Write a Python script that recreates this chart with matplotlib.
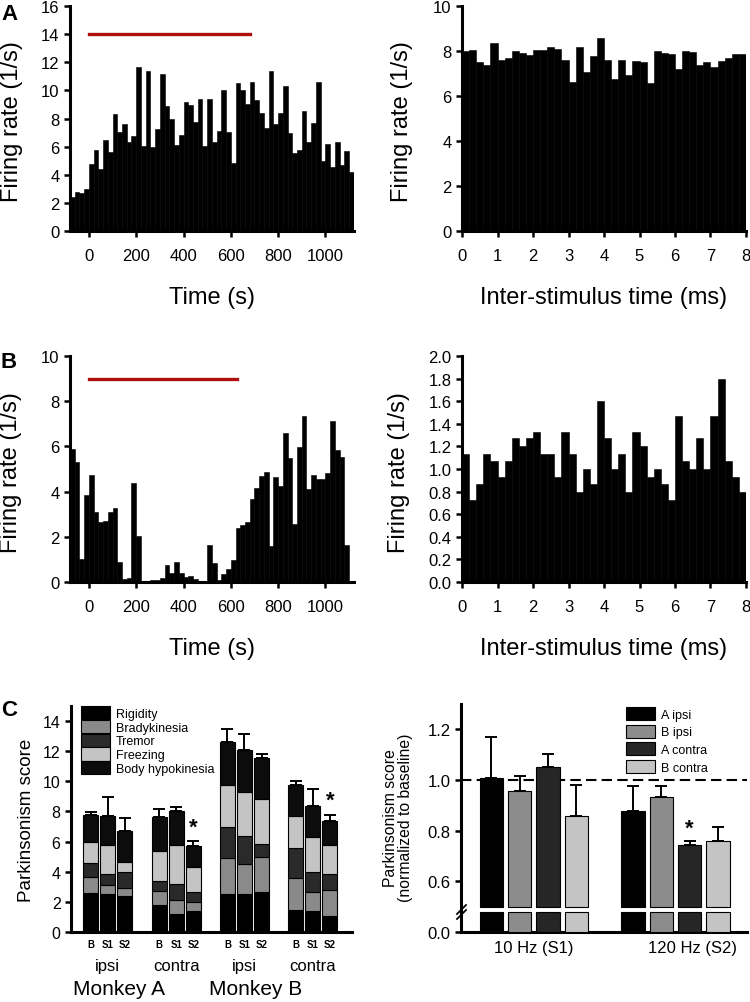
import numpy as np
import matplotlib
matplotlib.use("Agg")
import matplotlib.pyplot as plt
from matplotlib.lines import Line2D

plt.rcParams["font.family"] = ["Liberation Sans", "DejaVu Sans"]

# ---------------- data ----------------
# peri-stimulus firing rate, 20 s bins starting at -80 s
psth_start, psth_bin = -80, 20
psth_a = [2.44, 2.75, 2.68, 2.99, 4.79, 5.73, 4.38, 6.49, 5.59, 8.34,
          7.01, 7.6, 6.35, 6.75, 11.63, 6.07, 11.4, 6.0, 7.25, 11.16,
          8.86, 7.96, 6.14, 6.85, 9.19, 8.96, 7.73, 9.36, 6.07, 9.38,
          6.3, 7.13, 10.02, 7.01, 4.83, 10.52, 10.05, 9.03, 10.57, 9.31,
          8.36, 7.32, 11.35, 7.6, 8.36, 10.28, 6.97, 5.55, 5.78, 8.5,
          6.3, 7.68, 10.62, 5.0, 6.18, 4.57, 6.3, 4.69, 5.71, 4.17]
psth_b = [5.88, 5.29, 1.0, 3.85, 4.73, 3.08, 2.67, 2.7, 3.08, 3.26,
          0.9, 0.13, 0.18, 4.4, 2.05, 0.03, 0.04, 0.09, 0.07, 0.16,
          0.75, 0.38, 0.9, 0.38, 0.24, 0.27, 0.12, 0.04, 0.04, 1.65,
          0.84, 0.09, 0.35, 0.59, 0.97, 2.4, 2.51, 2.65, 3.69, 4.14,
          4.69, 4.85, 1.61, 4.65, 4.25, 6.58, 5.49, 2.55, 5.99, 7.35,
          4.1, 4.73, 4.54, 4.57, 4.81, 7.14, 5.84, 5.55, 1.65, 0.0]
stim_a = (0, 680, 14)
stim_b = (0, 625, 9)

# firing rate vs inter-stimulus time, 0.2 ms bins
isi_bin = 0.2
isi_a = [7.98, 8.05, 7.52, 7.37, 8.36, 7.62, 7.7, 7.98, 7.89, 7.82,
         8.05, 8.05, 8.17, 8.11, 7.61, 6.64, 8.17, 7.08, 7.8, 8.6,
         7.61, 6.76, 7.61, 6.93, 7.55, 7.51, 6.56, 7.99, 7.89, 7.88,
         7.18, 7.99, 7.94, 7.37, 7.49, 7.3, 7.55, 7.7, 7.88, 7.88]
isi_b = [1.13, 0.73, 0.87, 1.13, 1.07, 0.93, 1.07, 1.27, 1.2, 1.27,
         1.33, 1.13, 1.13, 0.93, 1.33, 1.13, 0.8, 1.0, 0.87, 1.6,
         1.27, 1.0, 1.13, 0.8, 1.33, 1.2, 0.93, 1.0, 0.87, 0.73,
         1.47, 1.07, 1.0, 1.27, 1.0, 1.47, 1.8, 1.07, 0.93, 0.8]

# parkinsonism scores (stacked), 4 groups x (B, S1, S2)
conditions = ["B", "S1", "S2"] * 4
sides = ["ipsi", "contra", "ipsi", "contra"]
monkeys = ["Monkey A", "Monkey B"]
symptoms = ["Rigidity", "Bradykinesia", "Tremor", "Freezing", "Body hypokinesia"]
rigidity = [2.61, 2.5, 2.39, 1.77, 1.17, 1.37, 2.5, 2.5, 2.68, 1.44, 1.37, 1.04]
bradykinesia = [1.06, 0.6, 0.55, 0.97, 0.98, 0.62, 2.43, 1.99, 2.28, 2.12, 1.28, 1.75]
tremor = [0.93, 0.77, 1.04, 0.64, 1.06, 0.69, 2.06, 1.88, 0.86, 1.99, 1.35, 1.08]
freezing = [1.37, 1.93, 0.64, 2.0, 2.56, 1.61, 2.79, 2.92, 2.99, 2.15, 2.31, 1.93]
body_hypo = [1.8, 1.9, 2.06, 2.27, 2.26, 1.42, 2.83, 2.77, 2.72, 2.08, 2.05, 1.57]
score_err = [0.19, 1.28, 0.89, 0.54, 0.27, 0.31, 0.84, 1.1, 0.31, 0.24, 1.13, 0.42]
score_sig = [5, 11]  # bars marked with *

# normalized scores
norm_groups = ["10 Hz (S1)", "120 Hz (S2)"]
norm_series = ["A ipsi", "B ipsi", "A contra", "B contra"]
norm_s1 = [1.008, 0.958, 1.053, 0.859]
norm_s1_err = [0.16, 0.059, 0.05, 0.121]
norm_s2 = [0.878, 0.933, 0.744, 0.761]
norm_s2_err = [0.10, 0.042, 0.015, 0.055]
norm_sig = [(1, 2)]  # (group, series)

# ---------------- layout ----------------
W, H = 750, 1003
fig = plt.figure(figsize=(W / 100, H / 100), dpi=100)


def add_ax(x0, x1, ytop, ybot):
    return fig.add_axes([x0 / W, (H - ybot) / H, (x1 - x0) / W, (ybot - ytop) / H])


def style(ax, labelsize=12, lw=2.2):
    for s in ["top", "right"]:
        ax.spines[s].set_visible(False)
    for s in ["left", "bottom"]:
        ax.spines[s].set_linewidth(lw)
    ax.tick_params(width=1.8, length=4, labelsize=labelsize, direction="out")


def hist(ax, start, width, vals):
    edges = start + width * np.arange(len(vals))
    ax.bar(edges, vals, width=width, align="edge", color="black",
           edgecolor="black", linewidth=0.4)


def labels(ax, xlab, ylab_x):
    ax.set_ylabel("Firing rate (1/s)", fontsize=17, va="center")
    ax.set_xlabel(xlab, fontsize=17, va="top")
    ax.yaxis.set_label_coords(ylab_x, 0.49)
    ax.xaxis.set_label_coords(0.5, -0.244)
    ax.tick_params(axis="x", pad=8)


# A left
ax = add_ax(70, 354, 7, 232)
hist(ax, psth_start, psth_bin, psth_a)
ax.plot(stim_a[:2], [stim_a[2]] * 2, color="#b01010", lw=2.4)
ax.set_xlim(-80, 1121)
ax.set_ylim(0, 16)
ax.set_yticks(range(0, 17, 2))
ax.set_xticks(range(0, 1001, 200))
style(ax)
labels(ax, "Time (s)", -0.204)

# A right
ax = add_ax(462, 746, 7, 232)
hist(ax, 0, isi_bin, isi_a)
ax.set_xlim(0, 8)
ax.set_ylim(0, 10)
ax.set_yticks(range(0, 11, 2))
ax.set_xticks(range(0, 9))
style(ax)
labels(ax, "Inter-stimulus time (ms)", -0.213)

# B left
ax = add_ax(70, 354, 357, 583)
hist(ax, psth_start, psth_bin, psth_b)
ax.plot(stim_b[:2], [stim_b[2]] * 2, color="#b01010", lw=2.4)
ax.set_xlim(-80, 1121)
ax.set_ylim(0, 10)
ax.set_yticks(range(0, 11, 2))
ax.set_xticks(range(0, 1001, 200))
style(ax)
labels(ax, "Time (s)", -0.208)

# B right
ax = add_ax(462, 746, 357, 583)
hist(ax, 0, isi_bin, isi_b)
ax.set_xlim(0, 8)
ax.set_ylim(0, 2.0)
ticks = np.arange(0, 2.01, 0.2)
ax.set_yticks(ticks)
ax.set_yticklabels([f"{v:.1f}" for v in ticks])
ax.set_xticks(range(0, 9))
style(ax)
labels(ax, "Inter-stimulus time (ms)", -0.223)

# C left: stacked scores
ax = add_ax(71, 352, 707, 933)
pos = np.array([c + 4 * g for g in range(4) for c in range(3)], dtype=float)
stack = [rigidity, bradykinesia, tremor, freezing, body_hypo]
colors = ["#000000", "#8a8a8a", "#2a2a2a", "#c4c4c4", "#0c0c0c"]
bottom = np.zeros(12)
handles = []
for vals, col, name in zip(stack, colors, symptoms):
    b = ax.bar(pos, vals, bottom=bottom, width=0.88, color=col,
               edgecolor="black", linewidth=0.8, label=name, zorder=3)
    handles.append(b)
    bottom = bottom + np.array(vals)
ax.errorbar(pos, bottom, yerr=[np.zeros(12), score_err], fmt="none",
            ecolor="black", elinewidth=1.4, capsize=4, capthick=1.4, zorder=2)
for i in score_sig:
    ax.text(pos[i], bottom[i] + score_err[i] + 0.25, "*", ha="center",
            va="bottom", fontsize=16, fontweight="bold")
ax.set_xlim(-1.16, 15.3)
ax.set_ylim(0, 15)
ax.set_yticks(range(0, 15, 2))
style(ax, labelsize=11.5)
ax.set_xticks(pos)
ax.set_xticklabels(conditions, fontweight="bold")
ax.tick_params(axis="x", length=0, pad=5, labelsize=7)
ax.set_ylabel("Parkinsonism score", fontsize=13.5, va="center")
ax.yaxis.set_label_coords(-0.16, 0.5)
trans = ax.get_xaxis_transform()
for g, s in enumerate(sides):
    ax.text(pos[3 * g + 1], -0.150, s, transform=trans, ha="center",
            va="center", fontsize=12)
for m, name in enumerate(monkeys):
    ax.text(pos[6 * m + 1] + 0.65, -0.252, name, transform=trans,
            ha="center", va="center", fontsize=15)
ax.legend(handles=handles, loc="upper left", bbox_to_anchor=(0.035, 1.0),
          frameon=False, fontsize=9, handlelength=2.3, handleheight=1.25,
          labelspacing=0.0, handletextpad=0.5, borderaxespad=0, borderpad=0)

# C right: normalized, broken axis
ax_up = add_ax(461, 747, 705, 909)
ax_lo = add_ax(461, 747, 911, 933)
npos = [np.arange(4) + 5 * g for g in range(2)]
ncolors = ["#000000", "#8c8c8c", "#262626", "#c4c4c4"]
means = [norm_s1, norm_s2]
errs = [norm_s1_err, norm_s2_err]
base = 0.5
stub = 0.09
nhandles = []
for k in range(4):
    xs = [npos[g][k] for g in range(2)]
    ys = [means[g][k] for g in range(2)]
    es = [errs[g][k] for g in range(2)]
    b = ax_up.bar(xs, np.array(ys) - base, bottom=base, width=0.82,
                  color=ncolors[k], edgecolor="black", linewidth=0.8,
                  label=norm_series[k], zorder=3, clip_on=False)
    nhandles.append(b)
    ax_up.errorbar(xs, ys, yerr=[[0, 0], es], fmt="none", ecolor="black",
                   elinewidth=1.4, capsize=4, capthick=1.4, zorder=2)
    ax_lo.bar(xs, [min(y, stub) for y in ys], width=0.82, color=ncolors[k],
              edgecolor="black", linewidth=0.8, zorder=3)
for g, k in norm_sig:
    ax_up.text(npos[g][k], means[g][k] + errs[g][k] + 0.01, "*", ha="center",
               va="bottom", fontsize=16, fontweight="bold")
ax_up.axhline(1.0, color="black", lw=1.5, ls=(0, (5, 2.5)), zorder=1)
for a in (ax_up, ax_lo):
    a.set_xlim(-1.07, 9.02)
    style(a, labelsize=12)
ax_up.set_ylim(0.495, 1.3)
ax_up.set_yticks([0.6, 0.8, 1.0, 1.2])
ax_up.set_yticklabels(["0.6", "0.8", "1.0", "1.2"])
ax_up.spines["bottom"].set_visible(False)
ax_up.set_xticks([])
ax_lo.set_ylim(0, 0.1)
ax_lo.set_yticks([0])
ax_lo.set_yticklabels(["0.0"])
ax_lo.set_xticks([1.5, 7.1])
ax_lo.set_xticklabels(norm_groups, fontsize=12)
ax_lo.tick_params(axis="x", length=0, pad=6)
ax_up.set_ylabel("Parkinsonism score\n(normalized to baseline)", fontsize=11.3,
                 linespacing=1.0, va="center")
ax_up.yaxis.set_label_coords(-0.222, 0.446)
ax_up.legend(handles=nhandles, loc="upper left", bbox_to_anchor=(0.578, 0.985),
             frameon=False, fontsize=9, handlelength=2.3, handleheight=1.25,
             labelspacing=0.3, handletextpad=0.5, borderaxespad=0, borderpad=0)

# axis break marks
for dy in (0, 5):
    fig.add_artist(Line2D([457 / W, 466 / W], [(H - 915 - dy) / H, (H - 906 - dy) / H],
                          color="black", lw=1.3))

# panel letters
for letter, y in (("A", 14), ("B", 363), ("C", 711)):
    fig.text(9 / W, (H - y) / H, letter, fontsize=16, fontweight="bold",
             ha="center", va="center")

fig.savefig("out.png", dpi=100)
